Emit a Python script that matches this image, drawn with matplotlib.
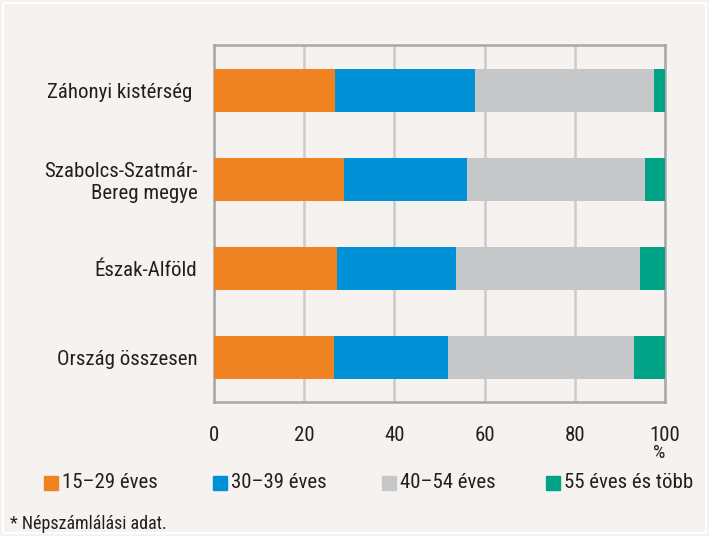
import numpy as np
import matplotlib.pyplot as plt
from matplotlib.patches import Rectangle
from matplotlib import font_manager

# ---------------- data ----------------
regions = ["Záhonyi kistérség ", "Szabolcs-Szatmár-\nBereg megye", "Észak-Alföld", "Ország összesen"]
series_names = ["15–29 éves", "30–39 éves", "40–54 éves", "55 éves és több"]
age_15_29 = [26.8, 28.8, 27.3, 26.6]
age_30_39 = [31.1, 27.3, 26.4, 25.3]
age_40_54 = [39.7, 39.5, 40.8, 41.2]
age_55_up = [2.4, 4.4, 5.5, 6.9]
x_ticks = [0, 20, 40, 60, 80, 100]
footnote = "* Népszámlálási adat."
# --------------------------------------

colors = ["#ef8321", "#0191d6", "#c6c7c9", "#00a385"]
bg = "#f6f2ef"

# keskeny betűtípus keresése (Arial Narrow-szerű)
cands = []
for f in font_manager.fontManager.ttflist:
    st = str(f.stretch).lower()
    nm = f.name.lower()
    if ("narrow" in nm or "condensed" in nm or st in ("condensed", "semi-condensed", "semicondensed")) \
            and f.style == "normal" and f.weight in (400, "normal", "regular"):
        cands.append(f)
stretch = "normal"
if cands:
    pref = sorted(cands, key=lambda f: (0 if "liberation" in f.name.lower() else
                                        1 if "roboto" in f.name.lower() else
                                        2 if "dejavu" in f.name.lower() else 3))
    fam = pref[0].name
    stretch = pref[0].stretch
    fs = 15
else:
    fam = "Liberation Sans"
    fs = 13
plt.rcParams["font.family"] = [fam, "DejaVu Sans"]
plt.rcParams["font.stretch"] = stretch
plt.rcParams["text.color"] = "#231f20"

fig = plt.figure(figsize=(7.09, 5.36), dpi=100, facecolor=bg)
ax = fig.add_axes([214 / 709, 1 - 402 / 536, 451 / 709, 357 / 536])
ax.set_facecolor(bg)

y = np.arange(len(regions))
left = np.zeros(len(regions))
for vals, c in zip([age_15_29, age_30_39, age_40_54, age_55_up], colors):
    ax.barh(y, vals, left=left, height=0.485, color=c, zorder=3)
    left += np.array(vals)

ax.set_xlim(0, 100)
ax.set_ylim(3.5, -0.51)
ax.set_xticks(x_ticks)
ax.set_xticklabels([str(t) for t in x_ticks], fontsize=fs)
ax.set_yticks(y)
ax.set_yticklabels(regions, fontsize=fs, multialignment="right")
ax.tick_params(axis="both", length=0, colors="#231f20")
ax.tick_params(axis="x", pad=17)
ax.tick_params(axis="y", pad=12)
ax.grid(axis="x", color="#c9cacd", lw=1.8, zorder=1)
for s in ax.spines.values():
    s.set_color("#a6a8ab")
    s.set_linewidth(1.8)

fig.text(659 / 709, 1 - 453 / 536, "%", fontsize=fs - 1, ha="center", va="center")

# jelmagyarázat
leg_x = [44, 213, 382, 546]
for lx, name, c in zip(leg_x, series_names, colors):
    fig.add_artist(Rectangle((lx / 709, 1 - 490 / 536), 14 / 709, 14 / 536,
                             transform=fig.transFigure, color=c))
    fig.text((lx + 18) / 709, 1 - 483 / 536, name, fontsize=fs, va="center", ha="left")

fig.text(10 / 709, 1 - 524 / 536, footnote, fontsize=fs - 2, va="center", ha="left")

# fehér keret
fig.add_artist(Rectangle((3 / 709, 3 / 536), 703 / 709, 530 / 536, transform=fig.transFigure,
                         fill=False, ec="white", lw=1.5))

fig.savefig("out.png", dpi=100, facecolor=bg)
